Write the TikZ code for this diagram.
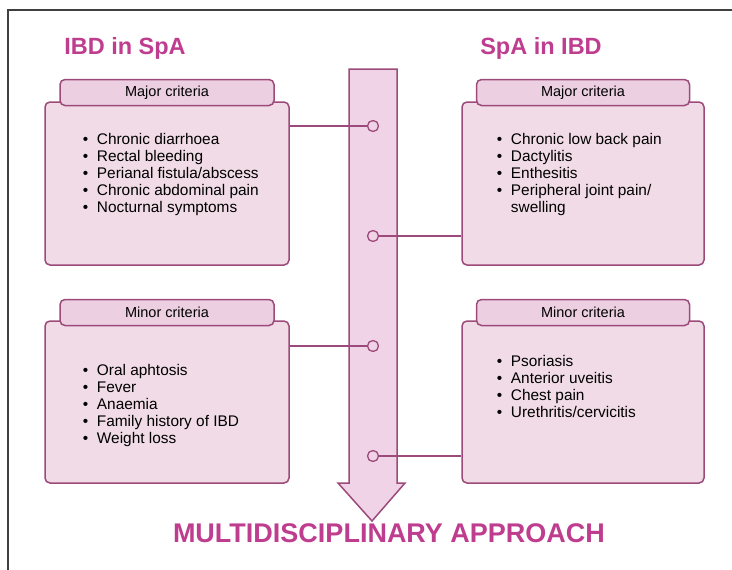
\documentclass[tikz,border=0pt]{standalone}
\usepackage{fontspec}
\setmainfont{Liberation Sans}
\usetikzlibrary{positioning}

\definecolor{plum}{HTML}{9C4A7A}
\definecolor{boxpink}{HTML}{F0DBE6}
\definecolor{tabpink}{HTML}{EDCFE2}
\definecolor{arrowpink}{HTML}{F0D3E7}
\definecolor{titlemag}{HTML}{BF3D8E}
\newcommand{\itm}[1]{\makebox[5pt]{\textbullet}\hspace{9pt}#1}

\begin{document}
\begin{tikzpicture}[
  x=1pt, y=-1pt,
  crit/.style={rectangle, draw=plum, line width=1.5pt, rounded corners=5pt, fill=boxpink, minimum width=244pt, minimum height=163pt},
  tab/.style={rectangle, draw=plum, line width=1.5pt, rounded corners=5pt, fill=tabpink, minimum width=214pt, minimum height=26pt, inner sep=0pt, font=\fontsize{14.5}{17}\selectfont},
  items/.style={align=left, inner sep=0pt, font=\fontsize{15.4}{17.1}\selectfont},
  dot/.style={circle, draw=plum, line width=1.3pt, fill=arrowpink, minimum size=11pt, inner sep=0pt},
  link/.style={draw=plum, line width=1.5pt},
  heading/.style={text=titlemag, font=\bfseries\fontsize{23.5}{28}\selectfont}
]
  \useasboundingbox (0,0) rectangle (732,570);
  \draw[line width=1.5pt, black!75] (8,570) -- (8,10) -- (732,10);

  % Titles
  \node[heading] (ttlL) at (125,48) {IBD in SpA};
  \node[heading] (ttlR) at (541,48) {SpA in IBD};

  % Central arrow
  \draw[draw=plum, line width=1.5pt, fill=arrowpink]
    (349,69) -- (397,69) -- (397,483) -- (405,483) -- (372,521) -- (338,483) -- (349,483) -- cycle;

  % IBD in SpA, major
  \node[crit] (majL) at (167,183.5) {};
  \node[tab, above=-5pt of majL.north] (tabmajL) {Major criteria};
  \node[items, below right=31.5pt and 38.5pt of majL.north west] (lstmajL) {
    \itm{Chronic diarrhoea}\\
    \itm{Rectal bleeding}\\
    \itm{Perianal fistula/abscess}\\
    \itm{Chronic abdominal pain}\\
    \itm{Nocturnal symptoms}
  };

  % SpA in IBD, major
  \node[crit, minimum width=242pt] (majR) at (583,183.5) {};
  \node[tab, minimum width=213pt, above=-5pt of majR.north] (tabmajR) {Major criteria};
  \node[items, below right=31.5pt and 35.5pt of majR.north west] (lstmajR) {
    \itm{Chronic low back pain}\\
    \itm{Dactylitis}\\
    \itm{Enthesitis}\\
    \itm{Peripheral joint pain/}\\
    \hspace{14pt}swelling
  };

  % IBD in SpA, minor
  \node[crit, minimum height=162pt] (minL) at (167,402) {};
  \node[tab, above=-6pt of minL.north] (tabminL) {Minor criteria};
  \node[items, below right=43.5pt and 38.5pt of minL.north west] (lstminL) {
    \itm{Oral aphtosis}\\
    \itm{Fever}\\
    \itm{Anaemia}\\
    \itm{Family history of IBD}\\
    \itm{Weight loss}
  };

  % SpA in IBD, minor
  \node[crit, minimum width=242pt, minimum height=162pt] (minR) at (583,402) {};
  \node[tab, minimum width=213pt, above=-6pt of minR.north] (tabminR) {Minor criteria};
  \node[items, below right=34.5pt and 35.5pt of minR.north west] (lstminR) {
    \itm{Psoriasis}\\
    \itm{Anterior uveitis}\\
    \itm{Chest pain}\\
    \itm{Urethritis/cervicitis}
  };

  % Links to the arrow
  \node[dot] (d1) at (373,126) {};
  \node[dot] (d2) at (373,236) {};
  \node[dot] (d3) at (373,346) {};
  \node[dot] (d4) at (373,456) {};
  \draw[link] (majL.east |- d1) -- (d1);
  \draw[link] (d2) -- (majR.west |- d2);
  \draw[link] (minL.east |- d3) -- (d3);
  \draw[link] (d4) -- (minR.west |- d4);

  \node[heading, font=\bfseries\fontsize{27}{32}\selectfont] (approach) at (389,533) {MULTIDISCIPLINARY APPROACH};
\end{tikzpicture}
\end{document}
